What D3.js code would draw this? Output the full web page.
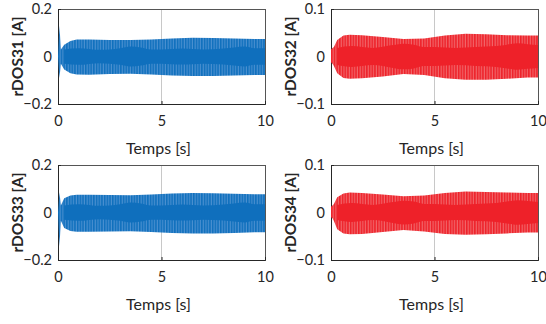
<!DOCTYPE html>
<html><head><meta charset="utf-8">
<script src="https://cdn.jsdelivr.net/npm/d3@7"></script>
<style>body{margin:0;background:#fff}svg{display:block}</style>
</head><body>
<script>
// time grid for the outer envelopes [s]
const time = [0, 0.07, 0.14, 0.3, 0.6, 0.9, 1.5, 2.5, 3.5, 4.5, 5.5, 6.5, 7.5, 8.5, 9.5, 10];
// outer envelopes (A)
const dos31Upper = [0, 0.13, 0.03, 0.05, 0.065, 0.072, 0.072, 0.070, 0.069, 0.072, 0.076, 0.079, 0.078, 0.076, 0.074, 0.074];
const dos31Lower = [0, -0.09, -0.03, -0.055, -0.070, -0.076, -0.077, -0.074, -0.073, -0.076, -0.080, -0.082, -0.082, -0.080, -0.078, -0.078];
const dos32Upper = [0.015, 0.018, 0.020, 0.035, 0.044, 0.046, 0.045, 0.041, 0.037, 0.038, 0.044, 0.048, 0.047, 0.045, 0.044, 0.044];
const dos32Lower = [-0.012, -0.015, -0.020, -0.035, -0.045, -0.047, -0.046, -0.042, -0.037, -0.039, -0.046, -0.049, -0.049, -0.047, -0.044, -0.044];
const dos33Upper = [0, 0.085, 0.03, 0.06, 0.072, 0.075, 0.075, 0.074, 0.073, 0.076, 0.080, 0.082, 0.081, 0.079, 0.077, 0.077];
const dos33Lower = [0, -0.142, -0.035, -0.065, -0.078, -0.081, -0.081, -0.080, -0.079, -0.082, -0.086, -0.088, -0.088, -0.086, -0.083, -0.083];
const dos34Upper = [0.012, 0.015, 0.018, 0.032, 0.040, 0.042, 0.041, 0.038, 0.034, 0.036, 0.041, 0.044, 0.043, 0.042, 0.041, 0.041];
const dos34Lower = [-0.010, -0.012, -0.018, -0.035, -0.044, -0.046, -0.045, -0.041, -0.037, -0.040, -0.045, -0.047, -0.046, -0.044, -0.042, -0.042];
// dense inner core (half-width, A)
const innerTime = [0.3, 1, 2, 3, 3.5, 4, 4.5, 5, 6, 7, 8, 8.5, 9, 9.5, 10];
const dos31Core = [0.030, 0.035, 0.028, 0.035, 0.042, 0.038, 0.030, 0.030, 0.034, 0.030, 0.034, 0.038, 0.042, 0.035, 0.035];
const dos32Core = [0.018, 0.022, 0.018, 0.024, 0.027, 0.025, 0.020, 0.020, 0.018, 0.020, 0.022, 0.025, 0.028, 0.026, 0.024];
const dos33Core = [0.030, 0.035, 0.028, 0.035, 0.042, 0.038, 0.030, 0.030, 0.034, 0.030, 0.034, 0.038, 0.042, 0.035, 0.035];
const dos34Core = [0.016, 0.020, 0.016, 0.022, 0.025, 0.023, 0.018, 0.018, 0.016, 0.018, 0.020, 0.023, 0.026, 0.024, 0.022];
const xTicks = [0, 5, 10];
const yTicksA = [-0.2, 0, 0.2];
const yTicksB = [-0.1, 0, 0.1];
const labels = ["rDOS31 [A]", "rDOS32 [A]", "rDOS33 [A]", "rDOS34 [A]"];
const xLabel = "Temps [s]";

const W = 546, H = 324;
const svg = d3.select("body").append("svg").attr("width", W).attr("height", H);
const FONT = "Lato, 'Open Sans', sans-serif";

const BLUE = "#0f6fbd", BLUE_L = "#5b9ad6";
const RED = "#ee2129", RED_L = "#f27a7e";
const defs = svg.append("defs");
function stripe(id, dark, light) {
  const p = defs.append("pattern").attr("id", id).attr("patternUnits", "userSpaceOnUse")
    .attr("width", 2.7).attr("height", 10);
  p.append("rect").attr("width", 2.7).attr("height", 10).attr("fill", dark);
  p.append("rect").attr("x", 1.6).attr("width", 0.9).attr("height", 10).attr("fill", light);
}
stripe("stB", BLUE, BLUE_L);
stripe("stR", RED, RED_L);

const fmt = d => d === 0 ? "0" : d3.format(".1f")(d);
const panels = [
  {x0: 58, y0: 9, up: dos31Upper, lo: dos31Lower, core: dos31Core, dom: [-0.2, 0.2], ticks: yTicksA, col: BLUE, pat: "stB", label: labels[0]},
  {x0: 331, y0: 9, up: dos32Upper, lo: dos32Lower, core: dos32Core, dom: [-0.1, 0.1], ticks: yTicksB, col: RED, pat: "stR", label: labels[1]},
  {x0: 58, y0: 165, up: dos33Upper, lo: dos33Lower, core: dos33Core, dom: [-0.2, 0.2], ticks: yTicksA, col: BLUE, pat: "stB", label: labels[2]},
  {x0: 331, y0: 165, up: dos34Upper, lo: dos34Lower, core: dos34Core, dom: [-0.1, 0.1], ticks: yTicksB, col: RED, pat: "stR", label: labels[3]}
];
const pw = 207, ph = 95;

panels.forEach(p => {
  const g = svg.append("g").attr("transform", `translate(${p.x0},${p.y0})`);
  const x = d3.scaleLinear().domain([0, 10]).range([0, pw]);
  const y = d3.scaleLinear().domain(p.dom).range([ph, 0]);
  g.selectAll(".grid").data([5]).join("line")
    .attr("x1", d => x(d)).attr("x2", d => x(d)).attr("y1", 0).attr("y2", ph)
    .attr("stroke", "#c8c8c8").attr("stroke-width", 1);
  g.append("rect").attr("x", 0.5).attr("y", 0.5).attr("width", pw).attr("height", ph)
    .attr("fill", "none").attr("stroke", "#555").attr("stroke-width", 1);
  const xa = g.append("g").attr("transform", `translate(0,${ph})`)
    .call(d3.axisBottom(x).tickValues(xTicks).tickSizeInner(-3).tickSizeOuter(0).tickPadding(12).tickFormat(d3.format("d")));
  const ya = g.append("g")
    .call(d3.axisLeft(y).tickValues(p.ticks).tickSizeInner(-3).tickSizeOuter(0).tickPadding(6).tickFormat(fmt));
  [xa, ya].forEach(a => {
    a.select(".domain").attr("stroke", "#262626");
    a.selectAll(".tick line").attr("stroke", "#262626");
    a.selectAll("text").attr("font-family", FONT).attr("font-size", 14.5).attr("fill", "#262626");
  });
  const env = time.map((t, i) => ({t, u: p.up[i], l: p.lo[i]}));
  const area = d3.area().x(d => x(d.t)).y0(d => y(d.l)).y1(d => y(d.u)).curve(d3.curveMonotoneX);
  const areaLin = d3.area().x(d => x(d.t)).y0(d => y(d.l)).y1(d => y(d.u));
  g.append("path").datum(env).attr("d", areaLin).attr("fill", `url(#${p.pat})`);
  const core = innerTime.map((t, i) => ({t, u: p.core[i], l: -p.core[i]}));
  g.append("path").datum(core).attr("d", area).attr("fill", p.col);
  g.append("text").attr("x", pw / 2 - 3).attr("y", ph + 50).attr("text-anchor", "middle")
    .attr("font-family", FONT).attr("font-size", 16).attr("fill", "#262626").text(xLabel);
  g.append("text").attr("transform", `translate(-40,${ph / 2}) rotate(-90)`).attr("text-anchor", "middle")
    .attr("dy", "0.35em").attr("font-family", FONT).attr("font-size", 15.5).attr("font-weight", 700)
    .attr("fill", "#262626").text(p.label);
});
</script>
</body></html>
